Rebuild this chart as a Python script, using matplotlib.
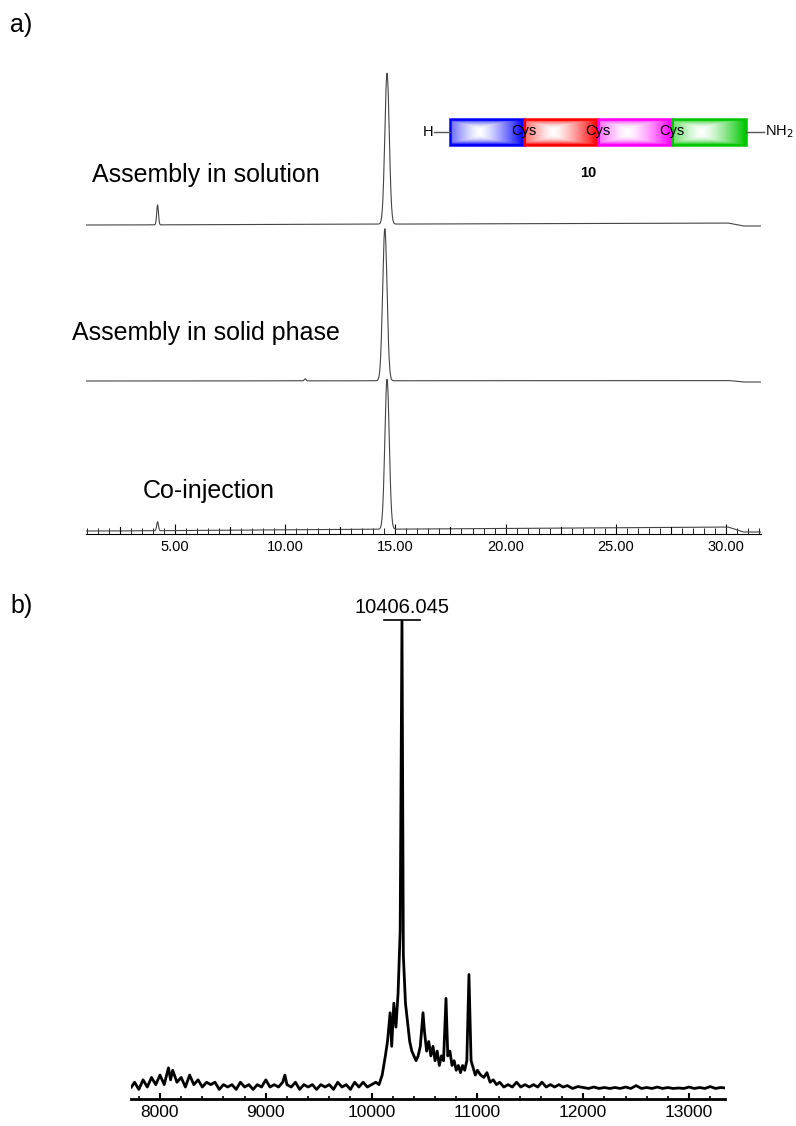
import numpy as np
import matplotlib.pyplot as plt
from matplotlib.patches import Rectangle

plt.rcParams['font.family'] = ['Liberation Sans', 'DejaVu Sans']

# ---- HPLC traces (retention time, min) ----
trace_labels = ['Assembly in solution', 'Assembly in solid phase', 'Co-injection']
trace_offsets = [309, 153, 3]           # baseline of each trace (arbitrary units)
main_rt = [14.62, 14.52, 14.62]
main_height = [151, 152, 150]
small_rt = [4.2, 10.9, 4.2]
small_height = [20, 2, 9]
drift_end = [2, 0.5, 4]                 # slow baseline rise toward 30 min
xticks_top = [5, 10, 15, 20, 25, 30]

# ---- MS spectrum (m/z, relative intensity) ----
ms_mz = [7730, 7760, 7800, 7840, 7880, 7920, 7960, 8000, 8040, 8080, 8100, 8120, 8160, 8200,
         8240, 8280, 8320, 8360, 8400, 8440, 8480, 8520, 8560, 8600, 8640, 8680, 8720, 8760,
         8800, 8840, 8880, 8920, 8960, 9000, 9040, 9080, 9120, 9160, 9180, 9200, 9240, 9280,
         9320, 9360, 9400, 9440, 9480, 9520, 9560, 9600, 9640, 9680, 9720, 9760, 9800, 9840,
         9880, 9920, 9960, 10000, 10040, 10070, 10100, 10130, 10150, 10175, 10190, 10210,
         10230, 10250, 10270, 10287, 10300, 10320, 10340, 10360, 10380, 10400, 10420, 10440,
         10460, 10486, 10500, 10520, 10540, 10560, 10580, 10600, 10620, 10640, 10660, 10680,
         10703, 10720, 10740, 10760, 10780, 10800, 10820, 10840, 10860, 10880, 10900, 10920,
         10940, 10960, 10980, 11000, 11030, 11060, 11090, 11120, 11150, 11180, 11210, 11250,
         11290, 11330, 11370, 11410, 11450, 11490, 11530, 11570, 11610, 11650, 11690, 11730,
         11770, 11810, 11850, 11900, 11950, 12000, 12050, 12100, 12150, 12200, 12250, 12300,
         12350, 12400, 12450, 12500, 12550, 12600, 12650, 12700, 12750, 12800, 12850, 12900,
         12950, 13000, 13050, 13100, 13150, 13200, 13250, 13300, 13340]
ms_int = [2.5, 3.5, 2.0, 4.0, 2.5, 4.5, 3.0, 5.0, 3.0, 6.5, 4.0, 6.0, 3.5, 4.5,
          2.5, 5.0, 3.0, 4.0, 2.5, 3.5, 3.0, 3.5, 2.0, 3.0, 2.5, 3.0, 2.0, 3.5,
          2.5, 3.0, 2.0, 3.0, 2.5, 4.0, 2.5, 3.0, 2.5, 3.5, 5.0, 3.0, 2.5, 3.5,
          2.0, 3.0, 2.5, 3.0, 2.0, 3.0, 2.5, 3.0, 2.0, 3.5, 2.5, 3.0, 2.0, 3.5,
          2.5, 3.5, 2.5, 3.0, 3.5, 3.0, 5.0, 9.0, 12.0, 18.0, 11.0, 20.0,
          15.0, 22.0, 35.0, 100.0, 30.0, 20.0, 16.0, 12.0, 10.0, 9.0, 8.0, 9.0,
          11.0, 18.0, 14.0, 10.0, 12.0, 9.0, 11.0, 8.0, 10.0, 7.0, 9.0, 8.0,
          21.0, 9.0, 10.0, 7.0, 8.0, 6.0, 7.0, 5.5, 7.0, 6.0, 8.0, 26.0,
          8.0, 6.5, 5.0, 6.0, 5.0, 4.5, 5.5, 3.5, 4.0, 3.0, 3.5, 2.5,
          3.0, 2.5, 3.5, 2.5, 3.0, 2.5, 3.0, 2.5, 3.5, 2.5, 3.0, 2.5,
          3.0, 2.5, 2.8, 2.2, 2.6, 2.4, 2.2, 2.5, 2.2, 2.4, 2.2, 2.4,
          2.2, 2.5, 2.2, 2.8, 2.2, 2.4, 2.2, 2.5, 2.2, 2.4, 2.2, 2.3,
          2.2, 2.5, 2.2, 2.4, 2.2, 2.6, 2.2, 2.4, 2.3]
xticks_ms = [8000, 9000, 10000, 11000, 12000, 13000]

fig = plt.figure(figsize=(7.96, 11.26), dpi=100)

# ---------------- panel a ----------------
ax1 = fig.add_axes([86/796, 1 - 534/1126, 675/796, 474/1126])
t = np.linspace(0.95, 31.6, 3000)
for off, rt, h, srt, sh, de in zip(trace_offsets, main_rt, main_height,
                                   small_rt, small_height, drift_end):
    y = off + h * np.exp(-0.5 * ((t - rt) / 0.1) ** 2) \
        + sh * np.exp(-0.5 * ((t - srt) / 0.04) ** 2) \
        + de * np.clip((t - 2) / 28, 0, 1) - (de + 1) * np.clip((t - 30.1) / 0.7, 0, 1)
    ax1.plot(t, y, color='#444444', lw=0.8)
ax1.set_xlim(0.95, 31.6)
ax1.set_ylim(0, 474)
for s in ['top', 'right', 'left']:
    ax1.spines[s].set_visible(False)
ax1.set_yticks([])
ax1.set_xticks(xticks_top)
ax1.set_xticklabels(['%.2f' % v for v in xticks_top], fontsize=10.5)
ax1.set_xticks(np.arange(1, 32, 0.5), minor=True)
ax1.tick_params(axis='x', which='major', length=7, direction='in', pad=4)
ax1.tick_params(axis='x', which='minor', length=4, direction='in')
for v in np.arange(2.5, 31, 5):
    ax1.axvline(v, ymin=0, ymax=7 / 474, color='black', lw=0.8)

fig.text(92/796, 1 - 175/1126, trace_labels[0], fontsize=18, va='center')
fig.text(72/796, 1 - 333/1126, trace_labels[1], fontsize=18, va='center')
fig.text(143/796, 1 - 491/1126, trace_labels[2], fontsize=18, va='center')
fig.text(10/796, 1 - 25/1126, 'a)', fontsize=18, va='center')
fig.text(10/796, 1 - 606/1126, 'b)', fontsize=18, va='center')

# ---- peptide scheme ----
axs = fig.add_axes([0, 0, 1, 1])
axs.set_xlim(0, 796)
axs.set_ylim(1126, 0)
axs.axis('off')
box_colors = [(0, 0, 1), (1, 0, 0), (1, 0, 1), (0, 0.78, 0)]
x0, w, y0, hbox = 450, 74, 119, 26
gx = np.linspace(0, 1, 80)
gy = np.linspace(0, 1, 30)
X, Y = np.meshgrid(gx, gy)
fx = np.clip(np.abs(X - 0.4) / 0.6, 0, 1) ** 1.3
fy = np.clip(np.abs(Y - 0.5) / 0.5, 0, 1) ** 3
f = np.maximum(fx, fy)
for i, c in enumerate(box_colors):
    img = np.ones((30, 80, 3))
    for k in range(3):
        img[:, :, k] = 1 - f * (1 - c[k])
    xl = x0 + i * w
    axs.imshow(img, extent=[xl, xl + w, y0 + hbox, y0], aspect='auto', zorder=1)
    axs.add_patch(Rectangle((xl, y0), w, hbox, fill=False, ec=c, lw=1.8, zorder=2))
axs.plot([434, x0], [132, 132], color='#555555', lw=1)
axs.plot([x0 + 4 * w, x0 + 4 * w + 18], [132, 132], color='#555555', lw=1)
axs.text(433, 132, 'H', ha='right', va='center', fontsize=10.5)
axs.text(x0 + 4 * w + 19, 132, 'NH$_2$', ha='left', va='center', fontsize=10.5)
for i in range(1, 4):
    axs.text(x0 + i * w, 131, 'Cys', ha='center', va='center', fontsize=10.5, zorder=3)
axs.text(588, 173, '10', ha='center', va='center', fontsize=10.5, fontweight='bold')

# ---------------- panel b ----------------
ax2 = fig.add_axes([131/796, 1 - 1099/1126, 594/796, 479/1126])
ax2.plot(ms_mz, ms_int, color='black', lw=2)
ax2.set_xlim(7726, 13340)
ax2.set_ylim(0, 100)
for s in ['top', 'right', 'left']:
    ax2.spines[s].set_visible(False)
ax2.spines['bottom'].set_linewidth(2)
ax2.set_yticks([])
ax2.set_xticks(xticks_ms)
ax2.set_xticklabels([str(v) for v in xticks_ms], fontsize=12.5)
ax2.set_xticks(np.arange(7800, 13400, 200), minor=True)
ax2.tick_params(axis='x', which='major', length=4, width=1.5, direction='in', pad=4)
ax2.tick_params(axis='x', which='minor', length=2, width=1.2, direction='in')
ax2.plot([10120, 10460], [100, 100], color='black', lw=1.2, clip_on=False)
ax2.text(10287, 100.6, '10406.045', ha='center', va='bottom', fontsize=14.5)

fig.savefig('out.png', dpi=100)
